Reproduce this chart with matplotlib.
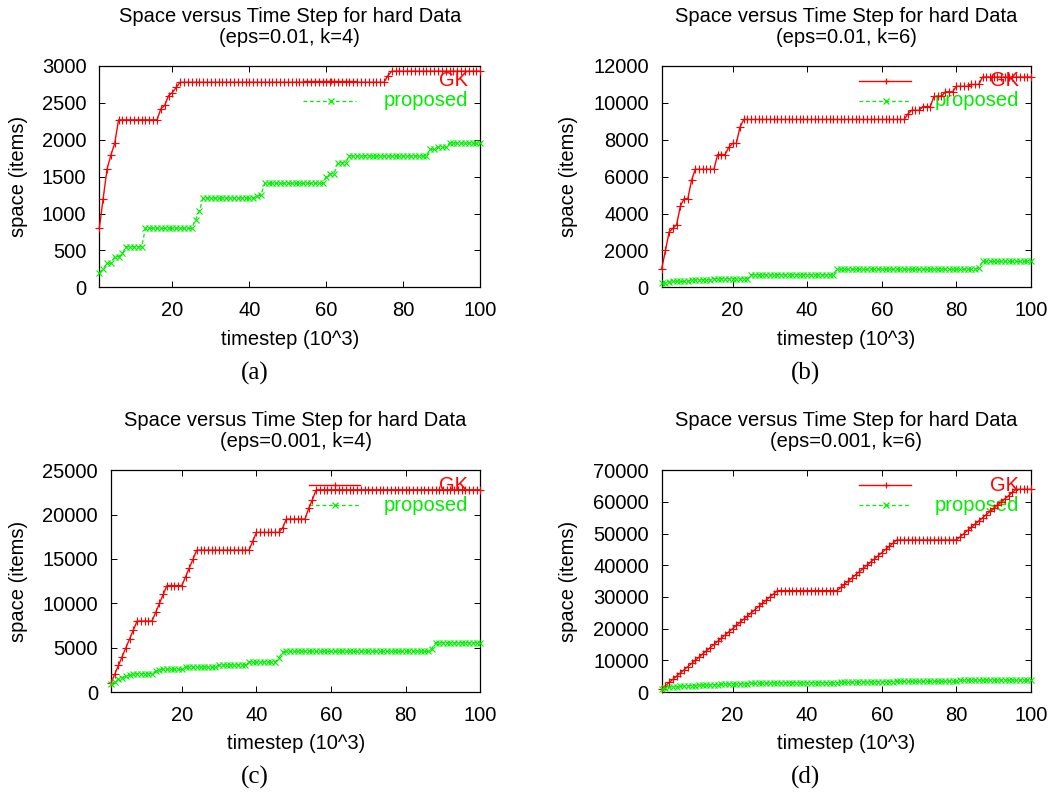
import matplotlib
matplotlib.use("Agg")
import matplotlib.pyplot as plt

# ---------------- data ----------------
timestep = list(range(1, 101))  # 10^3 steps

gk_a = [800, 1200, 1600, 1790, 1950, 2270, 2270, 2270, 2270, 2270,
        2270, 2270, 2270, 2270, 2270, 2270, 2420, 2465, 2600, 2640,
        2710, 2780, 2780, 2780, 2780, 2780, 2780, 2780, 2780, 2780,
        2780, 2780, 2780, 2780, 2780, 2780, 2780, 2780, 2780, 2780,
        2780, 2780, 2780, 2780, 2780, 2780, 2780, 2780, 2780, 2780,
        2780, 2780, 2780, 2780, 2780, 2780, 2780, 2780, 2780, 2780,
        2780, 2780, 2780, 2780, 2780, 2780, 2780, 2780, 2780, 2780,
        2780, 2780, 2780, 2780, 2780, 2870, 2930, 2930, 2930, 2930,
        2930, 2930, 2930, 2930, 2930, 2930, 2930, 2930, 2930, 2930,
        2930, 2930, 2930, 2930, 2930, 2930, 2930, 2930, 2930, 2930]
prop_a = [200, 250, 325, 325, 415, 415, 460, 550, 550, 550,
          550, 550, 800, 800, 800, 800, 800, 800, 800, 800,
          800, 800, 800, 800, 800, 910, 1040, 1210, 1210, 1210,
          1210, 1210, 1210, 1210, 1210, 1210, 1210, 1210, 1210, 1210,
          1210, 1240, 1250, 1410, 1410, 1410, 1410, 1410, 1410, 1410,
          1410, 1410, 1410, 1410, 1410, 1410, 1410, 1410, 1410, 1500,
          1540, 1540, 1690, 1690, 1690, 1780, 1780, 1780, 1780, 1780,
          1780, 1780, 1780, 1780, 1780, 1780, 1780, 1780, 1780, 1780,
          1780, 1780, 1780, 1780, 1780, 1780, 1870, 1870, 1900, 1900,
          1900, 1955, 1955, 1955, 1955, 1955, 1955, 1955, 1955, 1955]

gk_b = [1000, 2000, 3000, 3200, 3400, 4400, 4800, 4800, 5800, 6400,
        6400, 6400, 6400, 6400, 6400, 7200, 7200, 7200, 7600, 7800,
        7800, 8700, 9100, 9100, 9100, 9100, 9100, 9100, 9100, 9100,
        9100, 9100, 9100, 9100, 9100, 9100, 9100, 9100, 9100, 9100,
        9100, 9100, 9100, 9100, 9100, 9100, 9100, 9100, 9100, 9100,
        9100, 9100, 9100, 9100, 9100, 9100, 9100, 9100, 9100, 9100,
        9100, 9100, 9100, 9100, 9100, 9100, 9400, 9600, 9600, 9600,
        9800, 9800, 9800, 10350, 10350, 10350, 10600, 10600, 10600, 10900,
        10900, 10900, 10900, 11000, 11000, 11000, 11400, 11400, 11400, 11400,
        11400, 11400, 11400, 11400, 11400, 11400, 11400, 11400, 11400, 11400]
prop_b = [220, 250, 270, 320, 320, 320, 320, 320, 400, 400,
          400, 400, 400, 400, 470, 470, 470, 470, 470, 470,
          470, 470, 470, 470, 680, 680, 680, 680, 680, 680,
          680, 680, 680, 680, 680, 680, 680, 680, 680, 680,
          680, 680, 680, 680, 680, 680, 680, 980, 980, 980,
          980, 980, 980, 980, 980, 980, 980, 980, 980, 980,
          980, 980, 980, 980, 980, 980, 980, 980, 980, 980,
          980, 980, 980, 980, 980, 980, 980, 980, 980, 980,
          980, 980, 980, 980, 980, 1050, 1400, 1400, 1400, 1400,
          1400, 1400, 1400, 1400, 1400, 1400, 1400, 1400, 1400, 1400]

gk_c = [1000, 2000, 3000, 4000, 5000, 6000, 7000, 8000, 8000, 8000,
        8000, 8000, 9000, 10000, 11000, 12000, 12000, 12000, 12000, 12000,
        13000, 14000, 15000, 16000, 16000, 16000, 16000, 16000, 16000, 16000,
        16000, 16000, 16000, 16000, 16000, 16000, 16000, 16000, 17000, 18000,
        18000, 18000, 18000, 18000, 18000, 18000, 18500, 19500, 19500, 19500,
        19500, 19500, 19500, 20700, 21700, 22800, 22800, 22800, 22800, 22800,
        22800, 22800, 22800, 22800, 22800, 22800, 22800, 22800, 22800, 22800,
        22800, 22800, 22800, 22800, 22800, 22800, 22800, 22800, 22800, 22800,
        22800, 22800, 22800, 22800, 22800, 22800, 22800, 22800, 22800, 22800,
        22800, 22800, 22800, 22800, 22800, 22800, 22800, 22800, 22800, 22800]
prop_c = [850, 1130, 1430, 1620, 1800, 1880, 1990, 2070, 2070, 2070,
          2070, 2070, 2370, 2480, 2560, 2560, 2560, 2560, 2560, 2560,
          2820, 2820, 2820, 2820, 2820, 2820, 2820, 2820, 2820, 3050,
          3050, 3050, 3050, 3050, 3050, 3050, 3050, 3380, 3380, 3380,
          3380, 3380, 3380, 3380, 3380, 3870, 4510, 4590, 4590, 4590,
          4590, 4590, 4590, 4590, 4590, 4590, 4590, 4590, 4590, 4590,
          4590, 4590, 4590, 4590, 4590, 4590, 4590, 4590, 4590, 4590,
          4590, 4590, 4590, 4590, 4590, 4590, 4590, 4590, 4590, 4590,
          4590, 4590, 4590, 4590, 4590, 4590, 4900, 5560, 5560, 5560,
          5560, 5560, 5560, 5560, 5560, 5560, 5560, 5560, 5560, 5560]

gk_d = [1000, 2000, 3000, 4000, 5000, 6000, 7000, 8000, 9000, 10000,
        11000, 12000, 13000, 14000, 15000, 16000, 17000, 18000, 19000, 20000,
        21000, 22000, 23000, 24000, 25000, 26000, 27000, 28000, 29000, 30000,
        31000, 32000, 32000, 32000, 32000, 32000, 32000, 32000, 32000, 32000,
        32000, 32000, 32000, 32000, 32000, 32000, 32000, 32000, 33000, 34000,
        35000, 36000, 37000, 38000, 39000, 40000, 41000, 42000, 43000, 44000,
        45000, 46000, 47000, 48000, 48000, 48000, 48000, 48000, 48000, 48000,
        48000, 48000, 48000, 48000, 48000, 48000, 48000, 48000, 48000, 48000,
        49000, 50000, 51000, 52000, 53000, 54000, 55000, 56000, 57000, 58000,
        59000, 60000, 61000, 62000, 63000, 64000, 64000, 64000, 64000, 64000]
prop_d = [800, 1200, 1450, 1600, 1700, 1800, 1900, 1950, 2000, 2050,
          2100, 2150, 2200, 2250, 2300, 2350, 2400, 2450, 2500, 2500,
          2550, 2600, 2600, 2650, 2700, 2700, 2750, 2800, 2800, 2850,
          2900, 2900, 2950, 2950, 2950, 2950, 2950, 2950, 2950, 2950,
          2950, 2950, 2950, 2950, 2950, 2950, 2950, 2950, 3000, 3050,
          3050, 3100, 3100, 3150, 3150, 3200, 3200, 3250, 3250, 3250,
          3300, 3300, 3300, 3350, 3350, 3350, 3350, 3350, 3350, 3350,
          3350, 3350, 3350, 3350, 3350, 3350, 3350, 3350, 3350, 3350,
          3700, 3750, 3750, 3750, 3750, 3750, 3750, 3750, 3750, 3750,
          3750, 3750, 3750, 3750, 3750, 3750, 3750, 3750, 3750, 3750]

subtitles = ["(eps=0.01, k=4)", "(eps=0.01, k=6)", "(eps=0.001, k=4)", "(eps=0.001, k=6)"]
captions = ["(a)", "(b)", "(c)", "(d)"]
ymax = [3000, 12000, 25000, 70000]
ystep = [500, 2000, 5000, 10000]
xticks = [20, 40, 60, 80, 100]
title_main = "Space versus Time Step for hard Data"
series_names = ["GK", "proposed"]

# ---------------- layout ----------------
W, H = 1050, 793
fig = plt.figure(figsize=(W / 100, H / 100), dpi=100)
plt.rcParams['font.family'] = ['Liberation Sans', 'DejaVu Sans']
FS = 14.5
RED = '#ff0000'
GREEN = '#00ee00'

# axes boxes in pixels: left, top, right, bottom
boxes = [(99.3, 66, 480.3, 287.3),
         (661.7, 66, 1031, 287.3),
         (111, 470.3, 480.3, 692),
         (661.7, 470.3, 1031, 692)]
title_y = [(16, 37.7), (16, 37.7), (420.7, 441.7), (420.7, 441.7)]
xlabel_y = [339, 339, 743.3, 743.3]
ylabel_x = [18.3, 568.5, 18.3, 568.5]
caption_xy = [(255, 373), (806, 373), (255, 777.7), (806, 777.7)]

gks = [gk_a, gk_b, gk_c, gk_d]
props = [prop_a, prop_b, prop_c, prop_d]

def fx(px):
    return px / W

def fy(py):
    return 1 - py / H

for i in range(4):
    l, t, r, b = boxes[i]
    ax = fig.add_axes([fx(l), fy(b), (r - l) / W, (b - t) / H])
    ax.set_xlim(1, 100)
    ax.set_ylim(0, ymax[i])
    ax.set_xticks(xticks)
    ax.set_yticks(list(range(0, ymax[i] + 1, ystep[i])))
    ax.tick_params(direction='in', length=4.5, width=0.7, top=True, right=True,
                   labelsize=FS, colors='black')
    ax.tick_params(axis='x', pad=9.8)
    ax.tick_params(axis='y', pad=9.3)
    for sp in ax.spines.values():
        sp.set_linewidth(0.9)

    # key (drawn beneath the data, as in gnuplot output)
    ky1, ky2 = 0.933, 0.843
    ax.plot([0.535, 0.675], [ky1, ky1], color=RED, lw=1.0, transform=ax.transAxes, zorder=1)
    ax.plot([0.607], [ky1], marker='+', color=RED, ms=5, mew=0.9, transform=ax.transAxes, zorder=1)
    ax.plot([0.535, 0.675], [ky2, ky2], color=GREEN, lw=0.9, dashes=(3, 2.2),
            transform=ax.transAxes, zorder=1)
    ax.plot([0.607], [ky2], marker='x', color=GREEN, ms=4, mew=0.9, transform=ax.transAxes, zorder=1)
    ax.text(0.967, ky1, series_names[0], color=RED, fontsize=FS, ha='right', va='center',
            transform=ax.transAxes, zorder=1)
    ax.text(0.967, ky2, series_names[1], color=GREEN, fontsize=FS, ha='right', va='center',
            transform=ax.transAxes, zorder=1)

    ax.plot(timestep, gks[i], color=RED, lw=1.0, marker='+', ms=5.5, mew=0.8,
            clip_on=False, zorder=3)
    ax.plot(timestep, props[i], color=GREEN, lw=0.9, dashes=(3, 2.2), marker='x', ms=4,
            mew=0.8, clip_on=False, zorder=3)

    cx = (l + r) / 2
    fig.text(fx(cx), fy(title_y[i][0]), title_main, fontsize=FS, ha='center', va='center')
    fig.text(fx(cx), fy(title_y[i][1]), subtitles[i], fontsize=FS, ha='center', va='center')
    fig.text(fx(cx), fy(xlabel_y[i]), "timestep (10^3)", fontsize=FS, ha='center', va='center')
    fig.text(fx(ylabel_x[i]), fy((t + b) / 2), "space (items)", fontsize=FS, ha='center',
             va='center', rotation=90)
    fig.text(fx(caption_xy[i][0]), fy(caption_xy[i][1]), captions[i], fontsize=18,
             ha='center', va='center', family=['Liberation Serif', 'DejaVu Serif'])

fig.savefig("out.png", dpi=100)
